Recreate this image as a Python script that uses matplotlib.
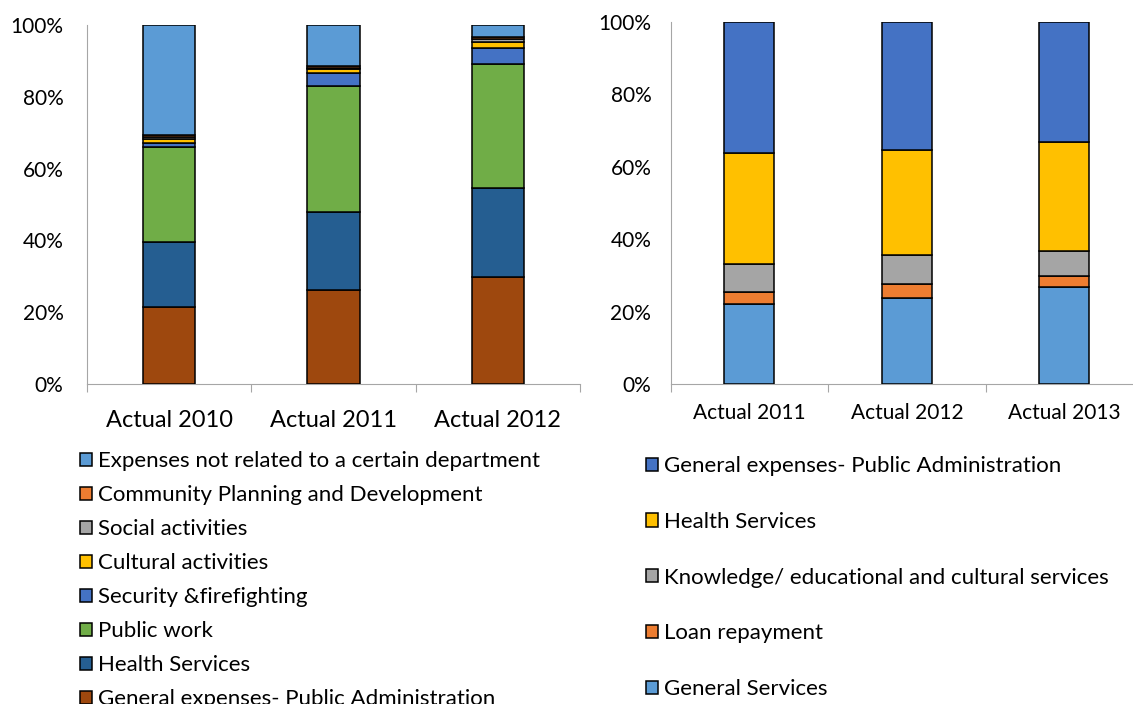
import numpy as np
import matplotlib
matplotlib.use('Agg')
import matplotlib.pyplot as plt
from matplotlib.ticker import FuncFormatter, FixedLocator

plt.rcParams['font.family'] = ['Lato', 'DejaVu Sans']

# left chart (2010-2012), values in % of total, bottom to top
left_cats = ['Actual 2010', 'Actual 2011', 'Actual 2012']
gen_admin = [21.4, 26.2, 29.8]
health = [18.2, 21.7, 24.8]
public_work = [26.5, 35.1, 34.5]
security = [1.0, 3.6, 4.6]
cultural = [1.2, 1.1, 1.7]
social = [0.6, 0.4, 0.7]
community = [0.5, 0.4, 0.6]
not_related = [30.6, 11.5, 3.3]

left_series = [
    ('General expenses- Public Administration', gen_admin, '#9E480E'),
    ('Health Services', health, '#255E91'),
    ('Public work', public_work, '#70AD47'),
    ('Security &firefighting', security, '#4472C4'),
    ('Cultural activities', cultural, '#FFC000'),
    ('Social activities', social, '#A5A5A5'),
    ('Community Planning and Development', community, '#ED7D31'),
    ('Expenses not related to a certain department', not_related, '#5B9BD5'),
]

# right chart (2011-2013)
right_cats = ['Actual 2011', 'Actual 2012', 'Actual 2013']
gen_services = [22.1, 23.7, 26.7]
loan = [3.4, 4.0, 3.1]
knowledge = [7.6, 8.0, 7.0]
health_r = [30.7, 28.9, 30.1]
gen_exp_r = [36.2, 35.4, 33.1]

right_series = [
    ('General Services', gen_services, '#5B9BD5'),
    ('Loan repayment', loan, '#ED7D31'),
    ('Knowledge/ educational and cultural services', knowledge, '#A5A5A5'),
    ('Health Services', health_r, '#FFC000'),
    ('General expenses- Public Administration', gen_exp_r, '#4472C4'),
]

W, H = 1133, 704
fig = plt.figure(figsize=(W / 100, H / 100), dpi=100)

def stacked(ax, cats, series, cat_size, tick_size, pad_y, pad_x):
    x = np.arange(len(cats))
    totals = np.sum([s[1] for s in series], axis=0)
    bottom = np.zeros(len(cats))
    handles = []
    for name, vals, col in series:
        v = np.array(vals) / totals * 100
        b = ax.bar(x, v, 0.317, bottom=bottom, color=col, edgecolor='black',
                   linewidth=1.1, label=name, zorder=3)
        handles.append(b)
        bottom += v
    ax.set_xlim(-0.5, len(cats) - 0.5)
    ax.set_ylim(0, 100)
    ax.set_yticks(range(0, 101, 20))
    ax.yaxis.set_major_formatter(FuncFormatter(lambda v, p: f'{int(v)}%'))
    ax.tick_params(axis='y', length=0, labelsize=tick_size, pad=pad_y)
    ax.set_xticks(x)
    ax.set_xticklabels(cats)
    ax.tick_params(axis='x', which='major', length=0, labelsize=cat_size, pad=pad_x)
    ax.xaxis.set_minor_locator(FixedLocator(np.arange(-0.5, len(cats), 1.0)))
    ax.tick_params(axis='x', which='minor', length=6, color='#a6a6a6', width=0.8)
    for s in ['top', 'right']:
        ax.spines[s].set_visible(False)
    for s in ['left', 'bottom']:
        ax.spines[s].set_color('#a6a6a6')
        ax.spines[s].set_linewidth(0.8)
    return handles

ax1 = fig.add_axes([87 / W, 1 - 384 / H, 493 / W, 359 / H])
h1 = stacked(ax1, left_cats, left_series, 17, 15, 17, 19)

ax2 = fig.add_axes([670.7 / W, 1 - 384 / H, 472.5 / W, 362 / H])
h2 = stacked(ax2, right_cats, right_series, 15, 15, 14, 14)

leg_kw = dict(frameon=False, fontsize=16, handlelength=0.54, handleheight=0.54,
              handletextpad=0.25, borderpad=0, borderaxespad=0, loc='upper left')
fig.legend(h1[::-1], [s[0] for s in left_series][::-1],
           bbox_to_anchor=(80 / W, 1 - 451 / H), labelspacing=0.63, **leg_kw)
fig.legend(h2[::-1], [s[0] for s in right_series][::-1],
           bbox_to_anchor=(646 / W, 1 - 456 / H), labelspacing=1.61, **leg_kw)

fig.savefig('out.png', dpi=100)
